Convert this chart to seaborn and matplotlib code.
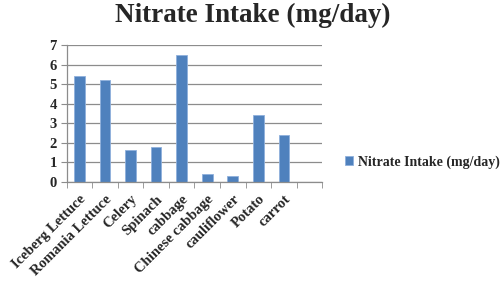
import numpy as np
import pandas as pd
import seaborn as sns
import matplotlib.pyplot as plt
from matplotlib.ticker import FixedLocator

vegetables = ["Iceberg Lettuce", "Romania Lettuce", "Celery", "Spinach", "cabbage",
              "Chinese cabbage", "cauliflower", "Potato", "carrot"]
intake = [5.4, 5.2, 1.6, 1.8, 6.5, 0.4, 0.3, 3.4, 2.4]
series_name = "Nitrate Intake (mg/day)"

df = pd.DataFrame({"veg": vegetables, "val": intake})

sns.set_style("white")
plt.rcParams['font.family'] = ['Liberation Serif', 'DejaVu Serif']
plt.rcParams['font.weight'] = 'bold'

fig = plt.figure(figsize=(5, 2.87), dpi=100)
ax = fig.add_axes([0.1333, 0.367, 0.5113, 0.476])

ax.set_axisbelow(True)
ax.yaxis.grid(True, color="#8c8c8c", linewidth=0.9)
sns.barplot(df, x="veg", y="val", color="#4F81BD", width=0.42, ax=ax,
            edgecolor="#8fb0dc", linewidth=0.6, saturation=1, label=series_name)

ax.set_xlim(-0.5, 9.5)
ax.set_ylim(0, 7)
ax.set_yticks(range(0, 8))
ax.set_xlabel("")
ax.set_ylabel("")

for s in ["top", "right"]:
    ax.spines[s].set_visible(False)
for s in ["left", "bottom"]:
    ax.spines[s].set_color("#8c8c8c")
    ax.spines[s].set_linewidth(0.9)

ax.xaxis.set_minor_locator(FixedLocator(np.arange(-0.5, 10, 1)))
ax.tick_params(axis="x", which="major", length=0, pad=8)
ax.tick_params(axis="x", which="minor", length=4, color="#8c8c8c", direction="out", bottom=True)
ax.tick_params(axis="y", length=4, color="#8c8c8c", direction="out", left=True, pad=3)
plt.setp(ax.get_xticklabels(), rotation=45, ha="right", rotation_mode="anchor",
         fontsize=10.5, fontweight="bold")
plt.setp(ax.get_yticklabels(), fontsize=10.5, fontweight="bold")

if ax.legend_:
    ax.legend_.remove()
handles, labels = ax.get_legend_handles_labels()
fig.legend(handles[:1], [series_name], loc="center left", bbox_to_anchor=(0.665, 0.436),
           frameon=False, prop={"weight": "bold", "size": 10},
           handlelength=0.6, handleheight=0.6, handletextpad=0.3)

fig.suptitle("Nitrate Intake (mg/day)", fontsize=19.5, fontweight="bold", x=0.505, y=0.99)

fig.savefig("out.png", dpi=100)
